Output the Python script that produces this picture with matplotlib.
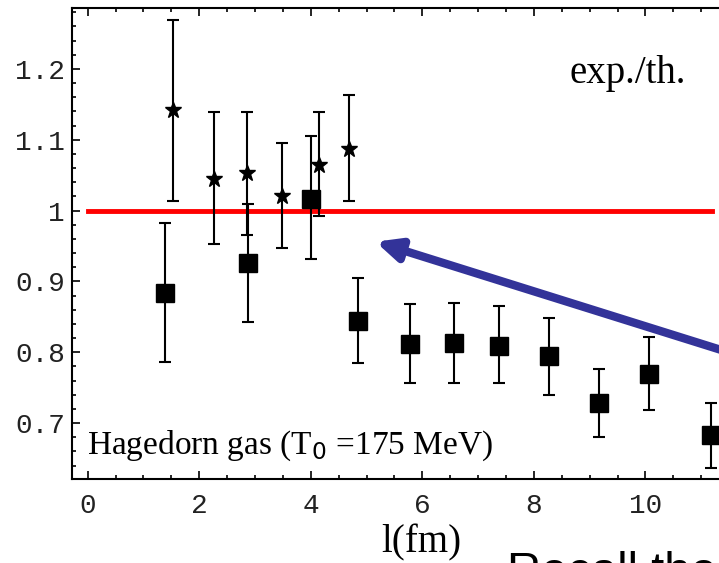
import matplotlib.pyplot as plt
from matplotlib.ticker import MultipleLocator

# squares: measured ratio with asymmetric errors
sq_l = [1.39, 2.87, 4.00, 4.85, 5.78, 6.57, 7.37, 8.27, 9.17, 10.06, 11.17]
sq_r = [0.883, 0.926, 1.016, 0.844, 0.812, 0.813, 0.809, 0.795, 0.728, 0.769, 0.683]
sq_hi = [0.982, 1.009, 1.105, 0.905, 0.868, 0.870, 0.865, 0.849, 0.777, 0.822, 0.729]
sq_lo = [0.786, 0.843, 0.932, 0.785, 0.756, 0.756, 0.756, 0.739, 0.681, 0.719, 0.636]

# stars
st_l = [1.53, 2.27, 2.86, 3.48, 4.14, 4.68]
st_r = [1.142, 1.044, 1.053, 1.020, 1.065, 1.087]
st_hi = [1.269, 1.139, 1.139, 1.096, 1.139, 1.163]
st_lo = [1.013, 0.953, 0.966, 0.947, 0.993, 1.013]

ref_level = 1.0
x_ticks = [0, 2, 4, 6, 8, 10]
y_ticks = [0.7, 0.8, 0.9, 1.0, 1.1, 1.2]
y_labels = ['0.7', '0.8', '0.9', '1', '1.1', '1.2']

W, H = 719, 563
fig = plt.figure(figsize=(W / 100, H / 100), dpi=100)
ax = fig.add_axes([72 / W, (H - 479) / H, (757 - 72) / W, (479 - 8) / H])
ax.set_xlim(-0.28, 12.0)
ax.set_ylim(0.621, 1.286)

mono = 'Liberation Mono'
serif = 'Liberation Serif'

def errs(vals, lo, hi):
    return [[v - l for v, l in zip(vals, lo)], [h - v for v, h in zip(vals, hi)]]

ax.errorbar(sq_l, sq_r, yerr=errs(sq_r, sq_lo, sq_hi), fmt='s', color='black',
            ms=12.5, elinewidth=1.5, capsize=4, capthick=1.5, zorder=3)
ax.errorbar(st_l, st_r, yerr=errs(st_r, st_lo, st_hi), fmt='*', color='black',
            ms=12, elinewidth=1.5, capsize=4, capthick=1.5, zorder=3)

ax.plot([0, 11.2], [ref_level, ref_level], color='#ff0000', lw=3.5, zorder=2)

# arrow pointing back at the reference line
ax.annotate('', xy=(5.16, 0.956), xytext=(12.5, 0.775),
            arrowprops=dict(arrowstyle='-|>,head_length=1.4,head_width=0.65',
                            color='#333399', lw=6, shrinkA=0, shrinkB=0),
            annotation_clip=False, zorder=4)

ax.set_xticks(x_ticks)
ax.xaxis.set_minor_locator(MultipleLocator(0.5))
ax.yaxis.set_minor_locator(MultipleLocator(0.02))
ax.set_yticks(y_ticks)
ax.set_yticklabels(y_labels)
ax.tick_params(which='both', direction='in', top=True, right=False, width=1.2)
ax.tick_params(which='major', length=6, labelsize=20)
ax.tick_params(axis='x', which='major', pad=10)
ax.tick_params(axis='y', which='major', pad=5)
ax.tick_params(which='minor', length=3)
for lab in ax.get_xticklabels() + ax.get_yticklabels():
    lab.set_fontfamily(mono)
    lab.set_color('#222222')
for s in ['left', 'bottom', 'top']:
    ax.spines[s].set_linewidth(1.5)
ax.spines['right'].set_visible(False)

ax.text(0.727, 0.86, 'exp./th.', transform=ax.transAxes, fontsize=28,
        family=serif, ha='left', va='center')
ax.text(0.022, 0.07, r'Hagedorn gas (T$_0$ =175 MeV)', transform=ax.transAxes,
        fontsize=24, family=serif, ha='left', va='center')

fig.text(421 / W, 1 - 543 / H, 'l(fm)', fontsize=28, family=serif,
         ha='center', va='center')
fig.text(507 / W, 1 - 585 / H, 'Recall the', fontsize=34,
         family='Liberation Sans', ha='left', va='baseline')

fig.savefig('out.png', dpi=100)
